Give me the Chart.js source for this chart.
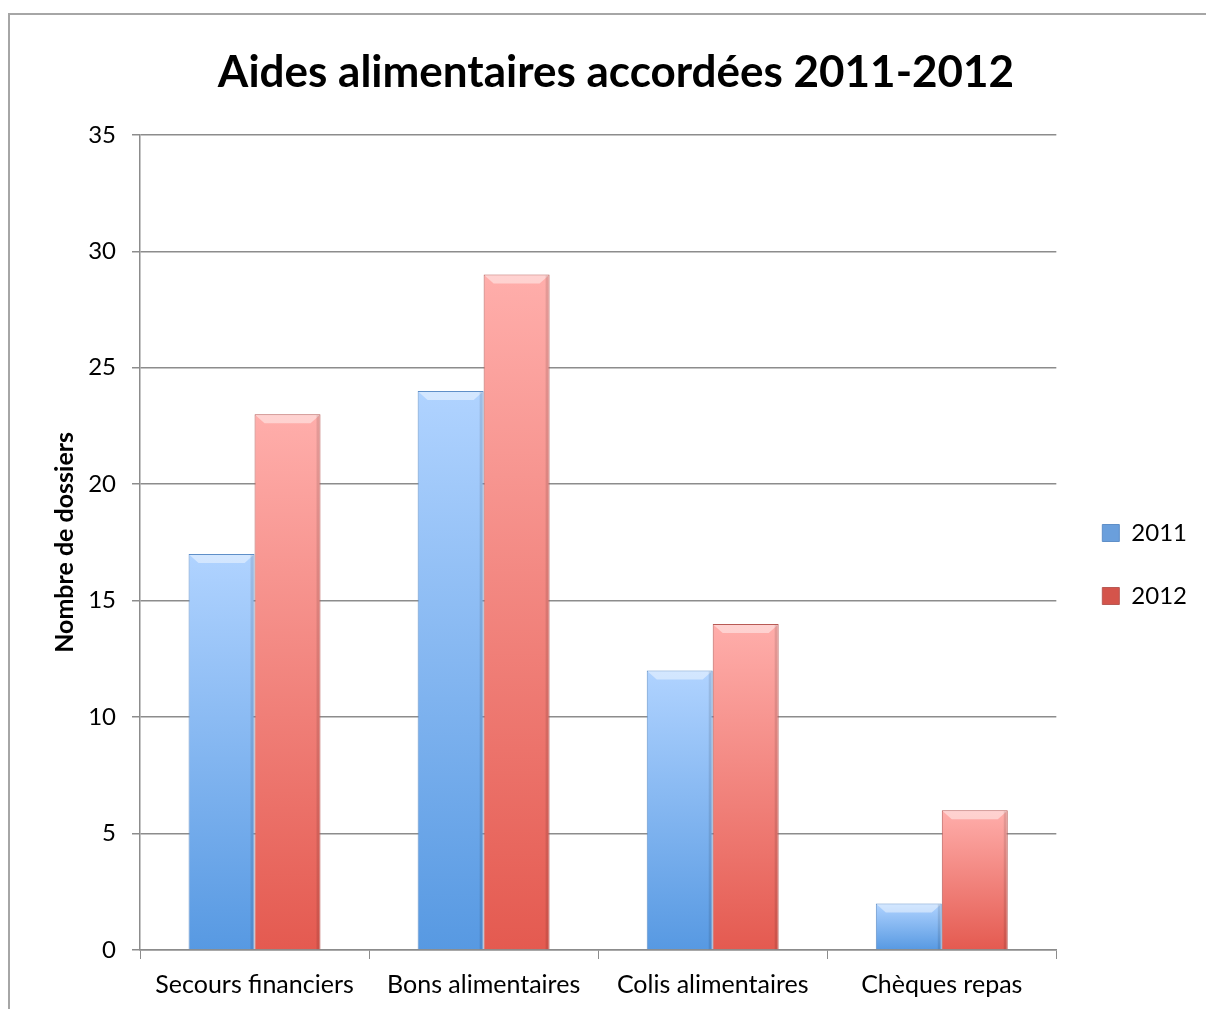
<!DOCTYPE html>
<html><head><meta charset="utf-8">
<script src="https://cdn.jsdelivr.net/npm/chart.js@4/dist/chart.umd.min.js"></script>
<style>html,body{margin:0;padding:0;background:#fff}#wrap{width:1206px;height:1009px;position:relative}</style>
</head><body><div id="wrap"><canvas id="c" width="1206" height="1009"></canvas></div>
<script>
const categories = ['Secours financiers', 'Bons alimentaires', 'Colis alimentaires', 'Chèques repas'];
const seriesNames = ['2011', '2012'];
const values2011 = [17, 24, 12, 2];
const values2012 = [23, 29, 14, 6];
const yMin = 0, yMax = 35, yStep = 5;
const titleText = 'Aides alimentaires accordées 2011-2012';
const yTitle = 'Nombre de dossiers';

const FONT = 'Lato, "Open Sans", sans-serif';
const palette = {
  '2011': {top: '#b0d3ff', bottom: '#5799e2', border: '#5f8fc8', legend: '#6a9fdc'},
  '2012': {top: '#ffaeab', bottom: '#e45a50', border: '#b85a55', legend: '#d4544b'}
};

function barGradient(name) {
  return (ctx) => {
    const chart = ctx.chart;
    if (!chart.chartArea || ctx.type !== 'data') return palette[name].bottom;
    const y = chart.scales.y;
    const top = y.getPixelForValue(ctx.raw);
    const bot = y.getPixelForValue(0);
    const g = chart.ctx.createLinearGradient(0, top, 0, bot);
    g.addColorStop(0, palette[name].top);
    g.addColorStop(1, palette[name].bottom);
    return g;
  };
}

const frame = {
  id: 'frame',
  beforeDraw(chart) {
    const c = chart.ctx;
    c.save();
    c.fillStyle = '#fff';
    c.fillRect(0, 0, chart.width, chart.height);
    c.strokeStyle = '#a6a6a6';
    c.lineWidth = 2;
    c.strokeRect(9, 14, chart.width + 20, chart.height + 20);
    c.restore();
  }
};

const shiftBoxes = {
  id: 'shiftBoxes',
  afterLayout(chart) {
    if (chart.titleBlock) { chart.titleBlock.left += 21; chart.titleBlock.right += 21; }
    const lg = chart.legend;
    if (lg) {
      const w = lg.right - lg.left;
      lg.left = chart.chartArea.right + 7; lg.right = lg.left + w;
      lg.top += 60; lg.bottom += 60;
    }
  }
};

const bevel = {
  id: 'bevel',
  afterDatasetsDraw(chart) {
    const c = chart.ctx;
    c.save();
    chart.data.datasets.forEach((ds, di) => {
      chart.getDatasetMeta(di).data.forEach((bar) => {
        const p = bar.getProps(['x', 'y', 'base', 'width'], true);
        const l = p.x - p.width / 2, r = p.x + p.width / 2, t = p.y;
        const h = Math.min(9, (p.base - p.y) / 2);
        c.fillStyle = 'rgba(255,255,255,0.45)';
        c.beginPath();
        c.moveTo(l + 1, t + 1); c.lineTo(r - 1, t + 1); c.lineTo(r - 1 - h, t + h); c.lineTo(l + 1 + h, t + h); c.closePath();
        c.fill();
        c.fillStyle = 'rgba(0,0,0,0.10)';
        c.fillRect(r - 4, t + 1, 3, p.base - t - 1);
      });
    });
    c.restore();
  }
};

new Chart(document.getElementById('c'), {
  type: 'bar',
  data: {
    labels: categories,
    datasets: [
      {label: seriesNames[0], data: values2011, backgroundColor: barGradient('2011'), borderColor: palette['2011'].border, borderWidth: 1, categoryPercentage: 0.576, barPercentage: 1},
      {label: seriesNames[1], data: values2012, backgroundColor: barGradient('2012'), borderColor: palette['2012'].border, borderWidth: 1, categoryPercentage: 0.576, barPercentage: 1}
    ]
  },
  options: {
    responsive: false,
    animation: false,
    layout: {padding: {left: 0, right: 16, top: 0, bottom: 0}},
    plugins: {
      title: {display: true, text: titleText, color: '#000', font: {family: FONT, size: 44, weight: 'bold'}, padding: {top: 46, bottom: 36}},
      legend: {
        position: 'right',
        labels: {
          color: '#000', font: {family: FONT, size: 24}, boxWidth: 17, boxHeight: 17, padding: 39,
          generateLabels: (chart) => chart.data.datasets.map((ds, i) => ({
            text: ds.label, fillStyle: palette[ds.label].legend, strokeStyle: palette[ds.label].border, lineWidth: 1, datasetIndex: i, hidden: false
          }))
        }
      },
      tooltip: {enabled: false}
    },
    scales: {
      x: {
        grid: {display: true, drawOnChartArea: false, color: '#8c8c8c', tickLength: 9, offset: true},
        border: {color: '#8c8c8c', width: 1.5},
        ticks: {color: '#000', font: {family: FONT, size: 25}, padding: 11},
        afterFit: (s) => { s.height = 59; }
      },
      y: {
        min: yMin, max: yMax,
        ticks: {stepSize: yStep, color: '#000', font: {family: FONT, size: 24}, padding: 16},
        grid: {color: '#8c8c8c', lineWidth: 1.5, tickLength: 8},
        border: {color: '#8c8c8c', width: 1.5},
        title: {display: true, text: yTitle, color: '#000', font: {family: FONT, size: 25, weight: 'bold'}, padding: {top: 50, bottom: 0}},
        afterFit: (s) => { s.width = 140; }
      }
    }
  },
  plugins: [frame, shiftBoxes, bevel]
});
</script></body></html>
